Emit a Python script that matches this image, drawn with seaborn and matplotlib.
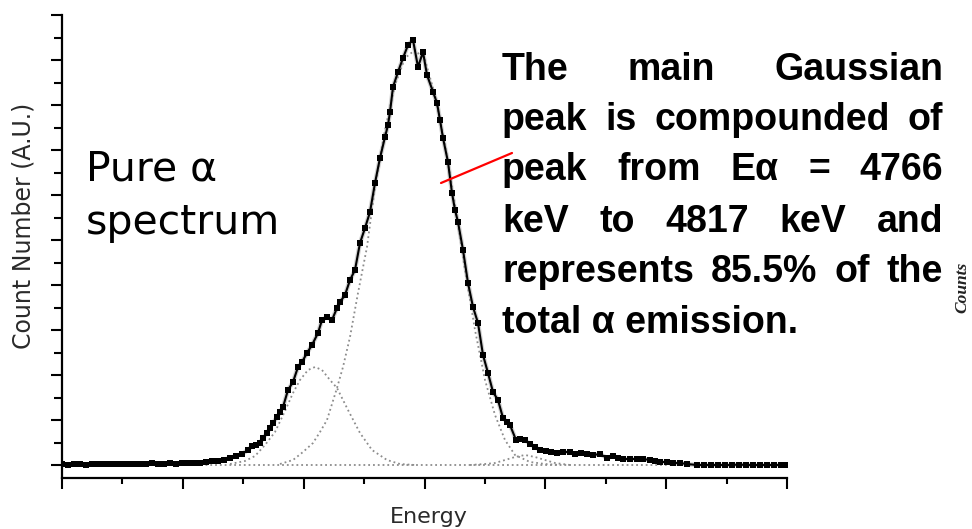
import matplotlib
matplotlib.use("Agg")
import matplotlib.pyplot as plt
import seaborn as sns
import numpy as np
from matplotlib.ticker import FixedLocator, NullFormatter
from matplotlib.lines import Line2D
from matplotlib import font_manager

# ---------------- data (channel, counts in arbitrary units) ----------------
channel = [0, 6, 12, 18, 24, 30, 36, 42, 48, 54, 60, 66, 72, 78, 84, 90, 96, 102, 108, 114,
           120, 126, 132, 138, 144, 150, 156, 162, 168, 174, 180, 186, 190, 194, 198, 201, 205,
           208, 211, 215, 218, 221, 226, 231, 236, 240, 245, 250, 256, 260, 265, 270, 275, 278,
           283, 288, 293, 298, 303, 308, 313, 318, 323, 326, 328, 331, 336, 341, 346, 351, 356,
           361, 365, 371, 375, 378, 381, 386, 390, 393, 396, 401, 406, 411, 416, 421, 426, 431,
           436, 441, 445, 448, 454, 458, 463, 468, 473, 478, 484, 489, 495, 501, 508, 513, 519,
           525, 531, 538, 545, 551, 556, 561, 568, 575, 581, 588, 593, 598, 605, 611, 618, 625,
           635, 642, 649, 656, 663, 670, 677, 684, 691, 698, 705, 712, 719, 725]
counts = [1, 0.5, 1, 1, 0.5, 1, 1, 1.5, 1, 1, 1, 1.5, 1, 1.5, 1, 2, 1.5, 1.5, 2, 1.5,
          2, 2, 2, 2.5, 3, 4, 4, 5.5, 7, 9, 11, 15, 19, 20, 22, 27, 32,
          37, 42, 48, 53, 58, 75, 83, 98, 103, 112, 120, 132, 145, 148, 145, 157, 163,
          170, 185, 195, 222, 237, 253, 282, 307, 328, 340, 353, 378, 393, 407, 420, 425, 398,
          413, 390, 373, 362, 345, 327, 303, 272, 255, 243, 215, 182, 158, 142, 110, 92, 73,
          65, 47, 43, 40, 25, 26, 25, 21, 18, 15, 14, 13, 12, 13, 13, 11, 12,
          11, 10, 11, 7, 9, 7, 6, 6, 6, 6, 5, 4, 3, 3, 2, 2, 1,
          0, 0, 0, 0, 0, 0, 0.5, 0, 0, 0, 0, 0, 0, 0]

# fitted Gaussian components
g1_channel = [168, 183, 193, 203, 213, 223, 231, 238, 246, 253, 260, 268, 275, 286, 298, 310, 325, 338, 353]
g1_counts = [1, 4, 9, 20, 33, 54, 72, 85, 95, 98, 95, 85, 77, 55, 32, 15, 5, 1, 0]

g2_channel = [218, 231, 241, 251, 258, 265, 275, 281, 288, 296, 305, 313, 323, 333, 343, 353,
              363, 373, 383, 393, 403, 413, 423, 433, 443, 453, 468, 483, 498]
g2_counts = [1, 5, 13, 22, 33, 45, 77, 98, 128, 172, 218, 278, 335, 380, 407, 415,
             405, 370, 320, 260, 195, 135, 85, 50, 25, 10, 3, 1, 0]

g3_channel = [408, 423, 433, 443, 453, 463, 473, 483, 493, 508]
g3_counts = [0, 1, 2, 5, 8, 10, 8, 5, 2, 0]

base_channel = [0, 725]
base_counts = [0, 0]

y_label = "Count Number (A.U.)"
x_label = "Energy"
side_label = "Counts"
title_lines = ["Pure α", "spectrum"]
note_lines = ["The main Gaussian",
              "peak is compounded of",
              "peak from Eα = 4766",
              "keV to 4817 keV and",
              "represents 85.5% of the",
              "total α emission."]

# ---------------- figure ----------------
sns.set_style("ticks")
plt.rcParams["font.family"] = ["DejaVu Sans"]
plt.rcParams["text.color"] = "black"

W, H = 972, 529
fig = plt.figure(figsize=(W / 100, H / 100), dpi=100)
ax = fig.add_axes([62 / W, (H - 478) / H, 725 / W, 463 / H])

dot_kw = dict(color="#8c8c8c", linestyle=":", linewidth=1.3, estimator=None, sort=False, ax=ax)
sns.lineplot(x=base_channel, y=base_counts, **dot_kw)
sns.lineplot(x=g1_channel, y=g1_counts, **dot_kw)
sns.lineplot(x=g2_channel, y=g2_counts, **dot_kw)
sns.lineplot(x=g3_channel, y=g3_counts, **dot_kw)

# soft halo then the measured spectrum
sns.lineplot(x=channel, y=counts, color="#9a9a9a", linewidth=3.2, alpha=0.45,
             estimator=None, sort=False, ax=ax)
sns.lineplot(x=channel, y=counts, color="black", linewidth=1.5, marker="s", markersize=3.8,
             markeredgewidth=0, estimator=None, sort=False, ax=ax)

ax.set_xlim(0, 725)
ax.set_ylim(-13, 450)
step_x = 725 / 12
ax.xaxis.set_major_locator(FixedLocator([i * step_x for i in range(0, 13, 2)]))
ax.xaxis.set_minor_locator(FixedLocator([i * step_x for i in range(1, 13, 2)]))
ax.yaxis.set_major_locator(FixedLocator([i * 22.5 for i in range(0, 21, 2)]))
ax.yaxis.set_minor_locator(FixedLocator([i * 22.5 for i in range(1, 21, 2)]))
for axis in (ax.xaxis, ax.yaxis):
    axis.set_major_formatter(NullFormatter())
    axis.set_minor_formatter(NullFormatter())
ax.tick_params(which="major", direction="out", length=8, width=1.5, color="black")
ax.tick_params(which="minor", direction="out", length=4.5, width=1.5, color="black")
ax.tick_params(axis="y", which="minor", length=5.5)
for s in ("top", "right"):
    ax.spines[s].set_visible(False)
for s in ("left", "bottom"):
    ax.spines[s].set_linewidth(1.6)
    ax.spines[s].set_color("black")
ax.set_xlabel("")
ax.set_ylabel("")
ax.set_facecolor("white")

# axis labels
fig.text(24 / W, 1 - 226 / H, y_label, rotation=90, ha="center", va="center",
         fontsize=17, color="#2a2a2a", family=["DejaVu Sans"])
fig.text(429 / W, 1 - 523 / H, x_label, ha="center", va="baseline",
         fontsize=16, color="#2a2a2a", family=["DejaVu Sans"])
fig.text(962 / W, 1 - 287 / H, side_label, rotation=90, ha="center", va="center",
         fontsize=12.5, style="italic", weight="bold", color="#222222",
         family=["Liberation Serif", "DejaVu Serif"])

# Pure alpha spectrum
fig.text(86 / W, 1 - 181 / H, title_lines[0], ha="left", va="baseline", fontsize=29.5,
         color="black", family=["DejaVu Sans"])
fig.text(86 / W, 1 - 234 / H, title_lines[1], ha="left", va="baseline", fontsize=29.5,
         color="black", family=["DejaVu Sans"])

# justified note
names = {f.name for f in font_manager.fontManager.ttflist}
if "Liberation Sans Narrow" in names:
    note_fam = ["Liberation Sans Narrow", "DejaVu Sans"]
    note_size = 32
else:
    note_fam = ["Liberation Sans", "DejaVu Sans"]
    note_size = 27
note_kw = dict(fontsize=note_size, weight="bold", family=note_fam, color="black")
x0, x1 = 502, 943
baselines = [80, 130, 180, 232, 282, 333]
renderer = fig.canvas.get_renderer()
for i, (line, yb) in enumerate(zip(note_lines, baselines)):
    yf = 1 - yb / H
    if i == len(note_lines) - 1:
        fig.text(x0 / W, yf, line, ha="left", va="baseline", **note_kw)
        continue
    words = line.split(" ")
    texts = [fig.text(0, yf, w, ha="left", va="baseline", **note_kw) for w in words]
    widths = [t.get_window_extent(renderer).width for t in texts]
    gap = (x1 - x0 - sum(widths)) / (len(words) - 1)
    x = x0
    for t, w in zip(texts, widths):
        t.set_position((x / W, yf))
        x += w + gap

# red pointer line
fig.add_artist(Line2D([441 / W, 512 / W], [1 - 183 / H, 1 - 153 / H],
                      color="red", linewidth=1.6, transform=fig.transFigure))

fig.savefig("out.png", dpi=100, facecolor="white")
